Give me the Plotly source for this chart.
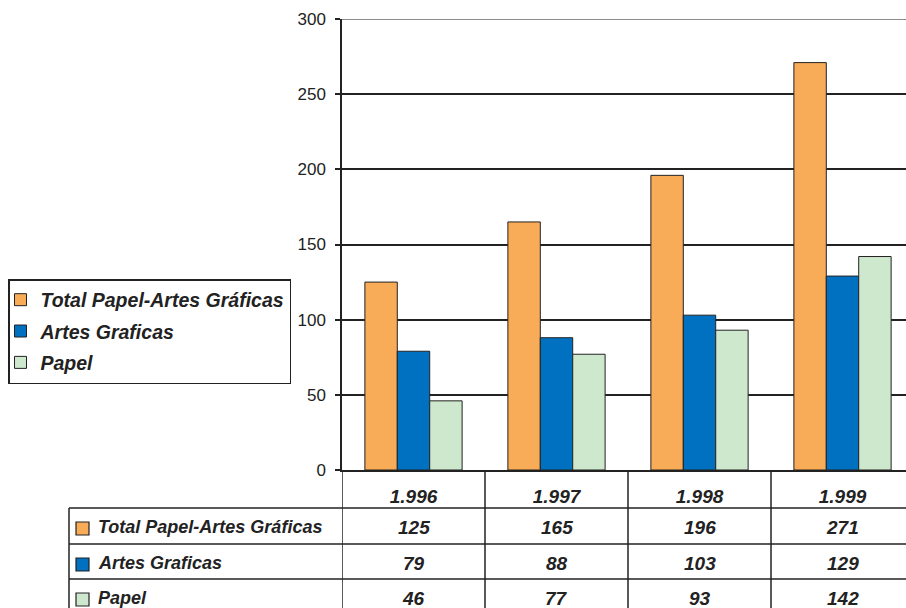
import plotly.graph_objects as go

# data
years = ["1.996", "1.997", "1.998", "1.999"]
series_names = ["Total Papel-Artes Gráficas", "Artes Graficas", "Papel"]
total_vals = [125, 165, 196, 271]
artes_vals = [79, 88, 103, 129]
papel_vals = [46, 77, 93, 142]
colors = ["#F9AC58", "#0070C0", "#CDE8CC"]

W, H = 906, 608
FONT = "Arial, Liberation Sans, sans-serif"
LINE = "#222222"


def px_x(x):
    return x / W


def px_y(y):
    return 1 - y / H


fig = go.Figure()
for i, (name, vals) in enumerate(zip(series_names, [total_vals, artes_vals, papel_vals])):
    fig.add_trace(go.Bar(
        x=years, y=vals, name="<b><i>%s</i></b>" % name,
        legendgroup=str(i),
        marker=dict(color=colors[i], line=dict(color=LINE, width=1)),
    ))

shapes = []
# gray top border of plot area
shapes.append(dict(type="line", xref="x", yref="y", x0=-0.5, x1=3.5, y0=300, y1=300,
                   line=dict(color="#8c8c8c", width=2)))
# table horizontal lines
for yy in [508, 544, 579]:
    shapes.append(dict(type="line", xref="paper", yref="paper", x0=px_x(69), x1=1,
                       y0=px_y(yy), y1=px_y(yy), line=dict(color=LINE, width=1.5)))
# table vertical lines
for xv in [-0.5, 0.5, 1.5, 2.5]:
    shapes.append(dict(type="line", xref="x", yref="paper", x0=xv, x1=xv,
                       y0=px_y(470), y1=0, line=dict(color=LINE, width=1.5)))
shapes.append(dict(type="line", xref="paper", yref="paper", x0=px_x(69), x1=px_x(69),
                   y0=px_y(508), y1=0, line=dict(color=LINE, width=1.5)))

annotations = []
row_centers = [527, 563, 598]
for r, (name, vals) in enumerate(zip(series_names, [total_vals, artes_vals, papel_vals])):
    yc = row_centers[r]
    shapes.append(dict(type="rect", xref="paper", yref="paper",
                       x0=px_x(76), x1=px_x(89), y0=px_y(yc + 8), y1=px_y(yc - 5),
                       fillcolor=colors[r], line=dict(color=LINE, width=1.2)))
    annotations.append(dict(xref="paper", yref="paper", x=px_x(96), y=px_y(yc),
                            xanchor="left", yanchor="middle", showarrow=False,
                            text="<b><i>%s</i></b>" % name,
                            font=dict(family=FONT, size=18, color="#222")))
    for c, v in enumerate(vals):
        annotations.append(dict(xref="x", yref="paper", x=c, y=px_y(yc),
                                xanchor="center", yanchor="middle", showarrow=False,
                                text="<b><i>%d</i></b>" % v,
                                font=dict(family=FONT, size=19, color="#222")))

fig.update_layout(
    width=W, height=H,
    margin=dict(l=0, r=0, t=0, b=0, autoexpand=False),
    paper_bgcolor="white", plot_bgcolor="white",
    barmode="group", bargap=0.32, bargroupgap=0,
    font=dict(family=FONT, size=17, color="#222"),
    xaxis=dict(
        domain=[px_x(342), 1], range=[-0.5, 3.444],
        tickvals=years, ticktext=["<b><i>%s</i></b>" % y for y in years],
        tickfont=dict(family=FONT, size=19, color="#222"),
        ticks="", ticklabelstandoff=8,
        showline=True, linecolor=LINE, linewidth=1.5,
        showgrid=False, automargin=False,
    ),
    yaxis=dict(
        domain=[px_y(470), px_y(19)], range=[0, 300],
        tickvals=[0, 50, 100, 150, 200, 250, 300],
        ticks="outside", ticklen=5, tickcolor=LINE, tickwidth=1.5,
        showline=True, linecolor=LINE, linewidth=1.5,
        showgrid=True, gridcolor=LINE, gridwidth=1.5,
        zeroline=False, automargin=False,
        tickfont=dict(family=FONT, size=17, color="#222"),
        ticklabelstandoff=6,
    ),
    legend=dict(
        x=px_x(8), y=px_y(279), xanchor="left", yanchor="top",
        bgcolor="white", bordercolor=LINE, borderwidth=1.5,
        font=dict(family=FONT, size=19.5, color="#222"),
        traceorder="grouped", tracegroupgap=3, itemwidth=30,
        indentation=-9,
    ),
    shapes=shapes,
    annotations=annotations,
)

# page has a default body margin; drop it so the figure fills the window
fig.write_html("out.html", config={"displayModeBar": False},
               post_script="document.body.style.margin='0';")
